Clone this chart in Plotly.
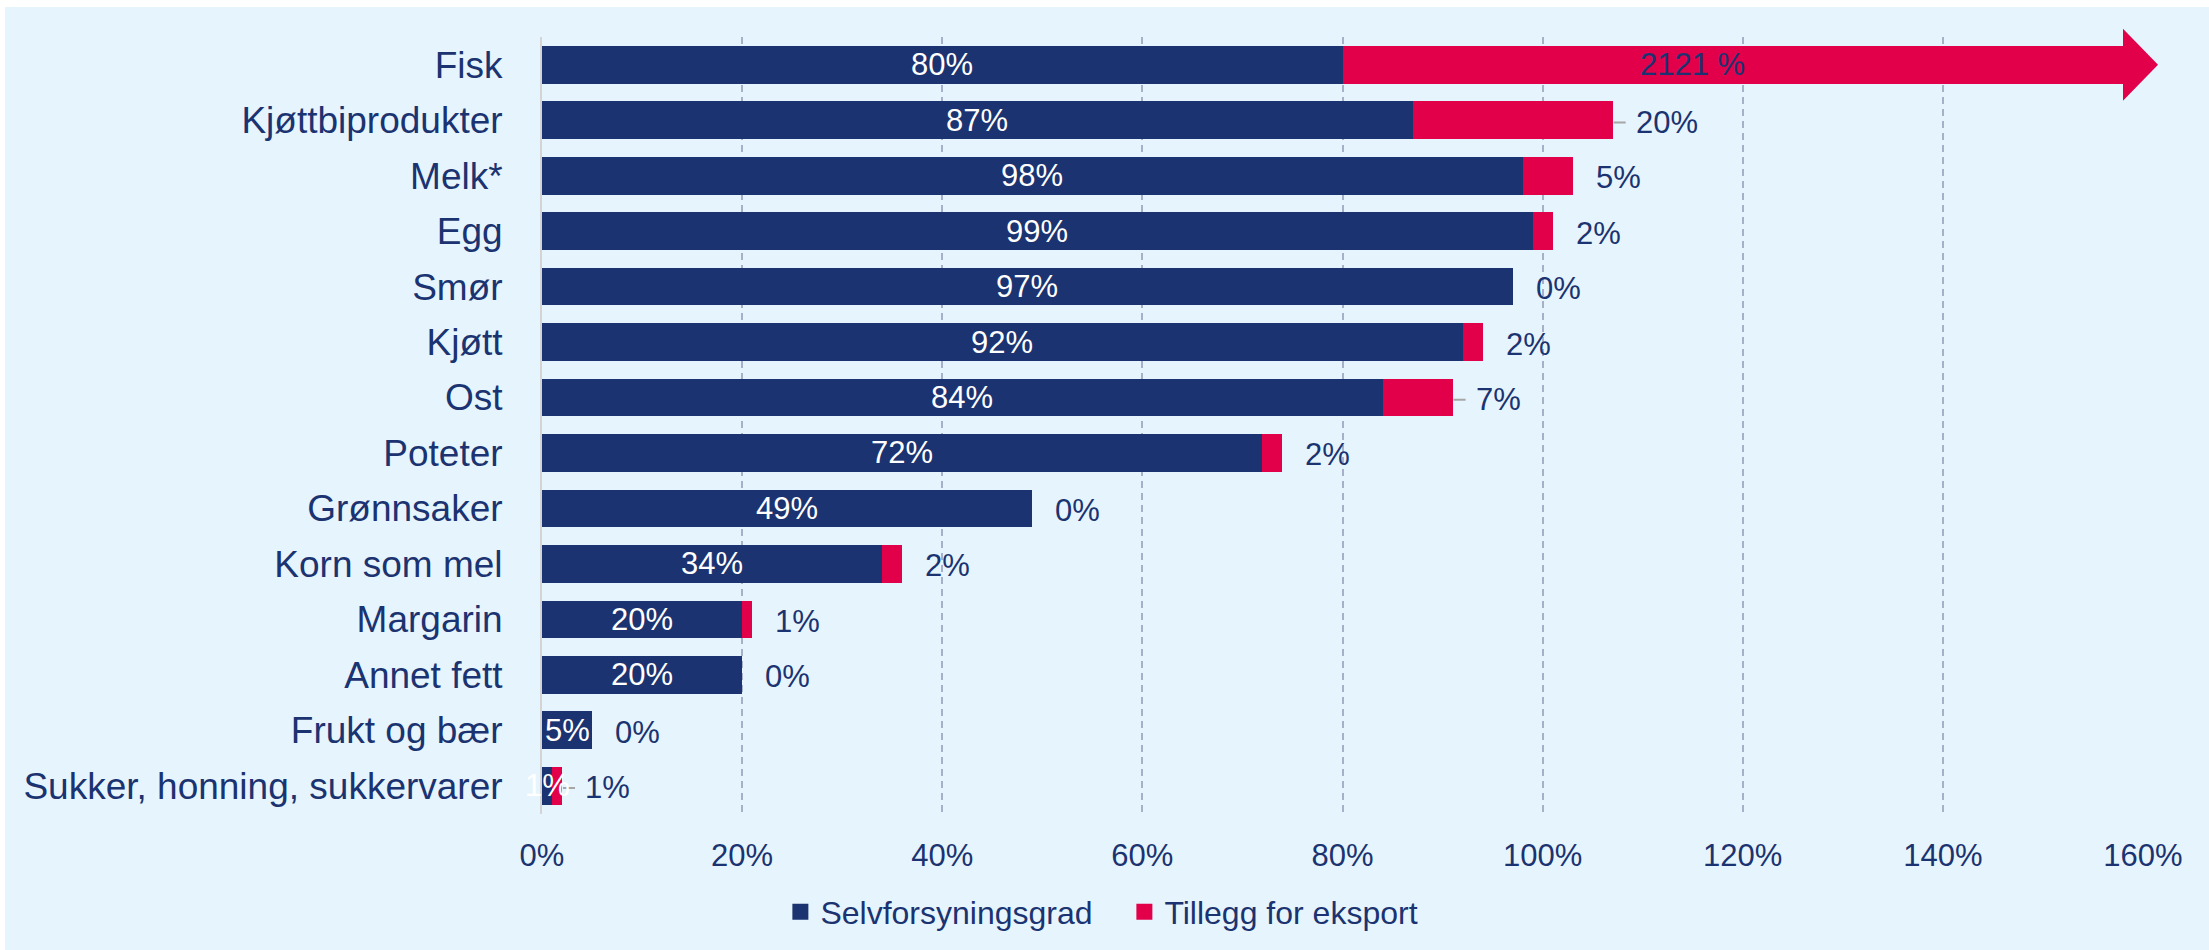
import plotly.graph_objects as go

# Selvforsyningsgrad per matvaregruppe, med tillegg for eksport (prosent)
categories = [
    "Fisk", "Kjøttbiprodukter", "Melk*", "Egg", "Smør", "Kjøtt", "Ost",
    "Poteter", "Grønnsaker", "Korn som mel", "Margarin", "Annet fett",
    "Frukt og bær", "Sukker, honning, sukkervarer",
]
selvforsyning = [80, 87, 98, 99, 97, 92, 84, 72, 49, 34, 20, 20, 5, 1]
eksport = [2121, 20, 5, 2, 0, 2, 7, 2, 0, 2, 1, 0, 0, 1]
leader_rows = ["Kjøttbiprodukter", "Ost", "Sukker, honning, sukkervarer"]
x_ticks = [0, 20, 40, 60, 80, 100, 120, 140, 160]
x_tick_labels = [f"{v}%" for v in x_ticks]

NAVY = "#1B3370"
RED = "#E2004A"
BG = "#E6F5FD"
GRID = "#A6B0CB"
FONT = "Arial, Liberation Sans, sans-serif"

X_MAX = 160
ARROW_BASE = 158      # where the off-scale Fisk bar turns into an arrow head
ARROW_TIP = 161.5
FISK_LABEL_X = 115

W, H = 2209, 950
L, R, T, B = 542, 66, 37, 135
plot_w, plot_h = W - L - R, H - T - B

n = len(categories)
# off-scale bars are cut where the arrow starts
eksport_shown = [min(e, ARROW_BASE - s) for s, e in zip(selvforsyning, eksport)]

fig = go.Figure()
fig.add_trace(go.Bar(
    y=categories, x=selvforsyning, orientation="h",
    marker=dict(color=NAVY, line=dict(width=0)),
    name="Selvforsyningsgrad", hoverinfo="x+y", showlegend=False,
))
fig.add_trace(go.Bar(
    y=categories, x=eksport_shown, orientation="h",
    marker=dict(color=RED, line=dict(width=0)),
    name="Tillegg for eksport", hoverinfo="y", showlegend=False,
))
# legend entries with bigger square swatches
for name, color in (("Selvforsyningsgrad", NAVY), ("Tillegg for eksport", RED)):
    fig.add_trace(go.Scatter(
        x=[None], y=[None], mode="markers", name=name,
        marker=dict(symbol="square", size=16, color=color),
        showlegend=True,
    ))

annotations = []
for c, s, e in zip(categories, selvforsyning, eksport):
    annotations.append(dict(
        x=s / 2, y=c, xref="x", yref="y", text=f"{s}%", showarrow=False,
        font=dict(family=FONT, size=31, color="white"),
    ))
    if e > X_MAX:
        annotations.append(dict(
            x=FISK_LABEL_X, y=c, xref="x", yref="y", text=f"{e} %",
            showarrow=False, font=dict(family=FONT, size=31, color=NAVY),
        ))
    else:
        annotations.append(dict(
            x=s + e, y=c, xref="x", yref="y", text=f"{e}%", showarrow=False,
            xanchor="left", xshift=21, yshift=-2,
            font=dict(family=FONT, size=31, color=NAVY),
        ))

shapes = []
# light blue card behind everything (white strip on the left and top)
px = lambda v: (v - L) / plot_w
py = lambda v: (H - B - v) / plot_h
shapes.append(dict(
    type="rect", xref="paper", yref="paper", layer="below",
    x0=px(5), x1=px(W + 5), y0=py(H + 5), y1=py(7),
    fillcolor=BG, line=dict(width=0),
))

# arrow head for the off-scale Fisk bar
row = categories.index("Fisk")
yc = (n - 0.5 - row) / n
hh = 0.65 / n
xb, xt = ARROW_BASE / X_MAX, ARROW_TIP / X_MAX
shapes.append(dict(
    type="path", xref="paper", yref="paper", layer="above",
    path=f"M{xb},{yc + hh} L{xt},{yc} L{xb},{yc - hh} Z",
    fillcolor=RED, line=dict(width=0),
))

# leader lines to the moved labels
for c in leader_rows:
    i = categories.index(c)
    end = selvforsyning[i] + eksport[i]
    shapes.append(dict(
        type="line", xref="x", yref="y", layer="above",
        x0=end + 0.1, x1=end + 1.3, y0=i + 0.04, y1=i + 0.04,
        line=dict(color="#A6A6A6", width=2),
    ))

fig.update_layout(
    width=W, height=H,
    barmode="stack", bargap=0.32,
    paper_bgcolor="white", plot_bgcolor="white",
    margin=dict(l=L, r=R, t=T, b=B, pad=0),
    font=dict(family=FONT, color=NAVY),
    showlegend=True,
    legend=dict(
        orientation="h", xref="container", yref="container",
        x=0.509, xanchor="center", y=0.04, yanchor="middle",
        font=dict(family=FONT, size=32, color=NAVY),
        entrywidth=299, entrywidthmode="pixels",
        traceorder="normal", bgcolor="rgba(0,0,0,0)",
    ),
    annotations=annotations,
    shapes=shapes,
)
fig.update_xaxes(
    range=[0, X_MAX], tickvals=x_ticks, ticktext=x_tick_labels,
    tickfont=dict(family=FONT, size=31, color=NAVY),
    showgrid=True, gridcolor=GRID, gridwidth=1.5, griddash="7px,5px",
    zeroline=False, showline=False, ticks="", ticklabelstandoff=20,
    fixedrange=True,
)
fig.update_yaxes(
    type="category", autorange="reversed",
    tickfont=dict(family=FONT, size=37, color=NAVY),
    showgrid=False, zeroline=False,
    showline=True, linecolor="#D4D4D4", linewidth=2,
    ticks="", ticklabelstandoff=30, fixedrange=True,
)

fig.write_html(
    "out.html",
    config={"displayModeBar": False},
    post_script="document.body.style.margin='0';",
)
